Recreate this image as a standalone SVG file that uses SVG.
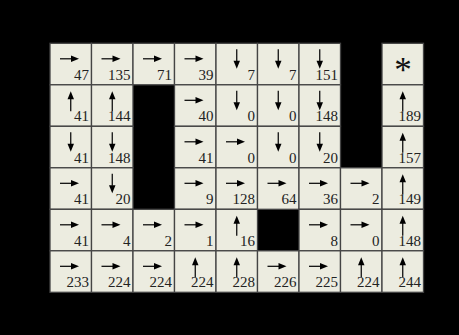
<svg xmlns="http://www.w3.org/2000/svg" xmlns:xlink="http://www.w3.org/1999/xlink" width="459" height="335" viewBox="0 0 459 335">
<style>
.cell{fill:#ECECE0;stroke:#444;stroke-width:1.3}
.n{font-family:"Liberation Serif","Times New Roman",serif;font-size:15px;fill:#222;text-anchor:end}
.s{font-family:"Liberation Serif","Times New Roman",serif;font-size:35px;fill:#111;text-anchor:middle}
.ln{stroke:#000;stroke-width:1.2;fill:none}
</style>
<defs>
<rect id="bx" class="cell" x="0" y="0" width="41.5" height="41.5"/>
<g id="R"><path class="ln" d="M10,15.5H22"/><polygon points="29,15.5 21,12.2 21,18.8"/></g>
<g id="U"><path class="ln" d="M20.75,13V26.5"/><polygon points="20.75,6.5 17.5,14.5 24,14.5"/></g>
<g id="D"><path class="ln" d="M20.75,6V18"/><polygon points="20.75,25.5 17.5,17.5 24,17.5"/></g>
</defs>
<rect x="0" y="0" width="459" height="335" fill="#000"/>
<g id="grid">
<!-- row 0 -->
<g id="r0c0" transform="translate(50,43.3)"><use href="#bx"/><use href="#R"/><text class="n" x="39" y="36.3">47</text></g>
<g id="r0c1" transform="translate(91.5,43.3)"><use href="#bx"/><use href="#R"/><text class="n" x="39" y="36.3">135</text></g>
<g id="r0c2" transform="translate(133,43.3)"><use href="#bx"/><use href="#R"/><text class="n" x="39" y="36.3">71</text></g>
<g id="r0c3" transform="translate(174.5,43.3)"><use href="#bx"/><use href="#R"/><text class="n" x="39" y="36.3">39</text></g>
<g id="r0c4" transform="translate(216,43.3)"><use href="#bx"/><use href="#D"/><text class="n" x="39" y="36.3">7</text></g>
<g id="r0c5" transform="translate(257.5,43.3)"><use href="#bx"/><use href="#D"/><text class="n" x="39" y="36.3">7</text></g>
<g id="r0c6" transform="translate(299,43.3)"><use href="#bx"/><use href="#D"/><text class="n" x="39" y="36.3">151</text></g>
<g id="r0c8" transform="translate(382,43.3)"><use href="#bx"/><text class="s" x="20.9" y="39">*</text></g>
<!-- row 1 -->
<g id="r1c0" transform="translate(50,84.8)"><use href="#bx"/><use href="#U"/><text class="n" x="39" y="36.3">41</text></g>
<g id="r1c1" transform="translate(91.5,84.8)"><use href="#bx"/><use href="#U"/><text class="n" x="39" y="36.3">144</text></g>
<g id="r1c3" transform="translate(174.5,84.8)"><use href="#bx"/><use href="#R"/><text class="n" x="39" y="36.3">40</text></g>
<g id="r1c4" transform="translate(216,84.8)"><use href="#bx"/><use href="#D"/><text class="n" x="39" y="36.3">0</text></g>
<g id="r1c5" transform="translate(257.5,84.8)"><use href="#bx"/><use href="#D"/><text class="n" x="39" y="36.3">0</text></g>
<g id="r1c6" transform="translate(299,84.8)"><use href="#bx"/><use href="#D"/><text class="n" x="39" y="36.3">148</text></g>
<g id="r1c8" transform="translate(382,84.8)"><use href="#bx"/><use href="#U"/><text class="n" x="39" y="36.3">189</text></g>
<!-- row 2 -->
<g id="r2c0" transform="translate(50,126.3)"><use href="#bx"/><use href="#D"/><text class="n" x="39" y="36.3">41</text></g>
<g id="r2c1" transform="translate(91.5,126.3)"><use href="#bx"/><use href="#D"/><text class="n" x="39" y="36.3">148</text></g>
<g id="r2c3" transform="translate(174.5,126.3)"><use href="#bx"/><use href="#R"/><text class="n" x="39" y="36.3">41</text></g>
<g id="r2c4" transform="translate(216,126.3)"><use href="#bx"/><use href="#R"/><text class="n" x="39" y="36.3">0</text></g>
<g id="r2c5" transform="translate(257.5,126.3)"><use href="#bx"/><use href="#D"/><text class="n" x="39" y="36.3">0</text></g>
<g id="r2c6" transform="translate(299,126.3)"><use href="#bx"/><use href="#D"/><text class="n" x="39" y="36.3">20</text></g>
<g id="r2c8" transform="translate(382,126.3)"><use href="#bx"/><use href="#U"/><text class="n" x="39" y="36.3">157</text></g>
<!-- row 3 -->
<g id="r3c0" transform="translate(50,167.8)"><use href="#bx"/><use href="#R"/><text class="n" x="39" y="36.3">41</text></g>
<g id="r3c1" transform="translate(91.5,167.8)"><use href="#bx"/><use href="#D"/><text class="n" x="39" y="36.3">20</text></g>
<g id="r3c3" transform="translate(174.5,167.8)"><use href="#bx"/><use href="#R"/><text class="n" x="39" y="36.3">9</text></g>
<g id="r3c4" transform="translate(216,167.8)"><use href="#bx"/><use href="#R"/><text class="n" x="39" y="36.3">128</text></g>
<g id="r3c5" transform="translate(257.5,167.8)"><use href="#bx"/><use href="#R"/><text class="n" x="39" y="36.3">64</text></g>
<g id="r3c6" transform="translate(299,167.8)"><use href="#bx"/><use href="#R"/><text class="n" x="39" y="36.3">36</text></g>
<g id="r3c7" transform="translate(340.5,167.8)"><use href="#bx"/><use href="#R"/><text class="n" x="39" y="36.3">2</text></g>
<g id="r3c8" transform="translate(382,167.8)"><use href="#bx"/><use href="#U"/><text class="n" x="39" y="36.3">149</text></g>
<!-- row 4 -->
<g id="r4c0" transform="translate(50,209.3)"><use href="#bx"/><use href="#R"/><text class="n" x="39" y="36.3">41</text></g>
<g id="r4c1" transform="translate(91.5,209.3)"><use href="#bx"/><use href="#R"/><text class="n" x="39" y="36.3">4</text></g>
<g id="r4c2" transform="translate(133,209.3)"><use href="#bx"/><use href="#R"/><text class="n" x="39" y="36.3">2</text></g>
<g id="r4c3" transform="translate(174.5,209.3)"><use href="#bx"/><use href="#R"/><text class="n" x="39" y="36.3">1</text></g>
<g id="r4c4" transform="translate(216,209.3)"><use href="#bx"/><use href="#U"/><text class="n" x="39" y="36.3">16</text></g>
<g id="r4c6" transform="translate(299,209.3)"><use href="#bx"/><use href="#R"/><text class="n" x="39" y="36.3">8</text></g>
<g id="r4c7" transform="translate(340.5,209.3)"><use href="#bx"/><use href="#R"/><text class="n" x="39" y="36.3">0</text></g>
<g id="r4c8" transform="translate(382,209.3)"><use href="#bx"/><use href="#U"/><text class="n" x="39" y="36.3">148</text></g>
<!-- row 5 -->
<g id="r5c0" transform="translate(50,250.8)"><use href="#bx"/><use href="#R"/><text class="n" x="39" y="36.3">233</text></g>
<g id="r5c1" transform="translate(91.5,250.8)"><use href="#bx"/><use href="#R"/><text class="n" x="39" y="36.3">224</text></g>
<g id="r5c2" transform="translate(133,250.8)"><use href="#bx"/><use href="#R"/><text class="n" x="39" y="36.3">224</text></g>
<g id="r5c3" transform="translate(174.5,250.8)"><use href="#bx"/><use href="#U"/><text class="n" x="39" y="36.3">224</text></g>
<g id="r5c4" transform="translate(216,250.8)"><use href="#bx"/><use href="#U"/><text class="n" x="39" y="36.3">228</text></g>
<g id="r5c5" transform="translate(257.5,250.8)"><use href="#bx"/><use href="#R"/><text class="n" x="39" y="36.3">226</text></g>
<g id="r5c6" transform="translate(299,250.8)"><use href="#bx"/><use href="#R"/><text class="n" x="39" y="36.3">225</text></g>
<g id="r5c7" transform="translate(340.5,250.8)"><use href="#bx"/><use href="#U"/><text class="n" x="39" y="36.3">224</text></g>
<g id="r5c8" transform="translate(382,250.8)"><use href="#bx"/><use href="#U"/><text class="n" x="39" y="36.3">244</text></g>
</g>
</svg>
